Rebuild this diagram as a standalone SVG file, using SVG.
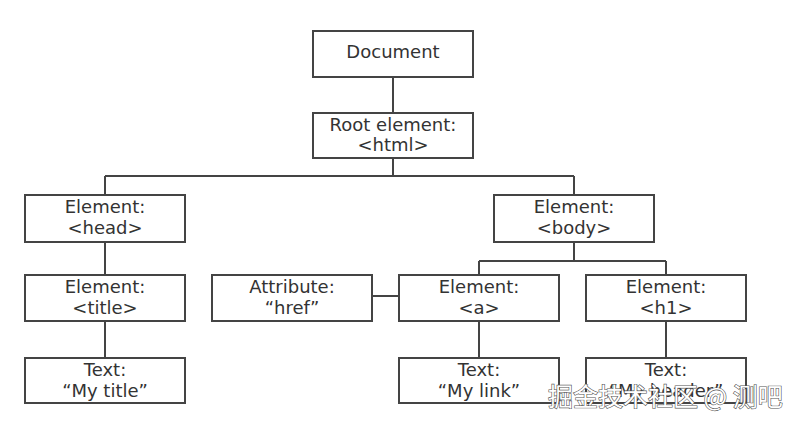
<svg xmlns="http://www.w3.org/2000/svg" width="800" height="427" viewBox="0 0 800 427">
<style>
.box{fill:#fff;stroke:#444;stroke-width:2}
.t{font-family:"DejaVu Sans",Verdana,sans-serif;font-size:18px;fill:#333;text-anchor:middle}
.c{fill:none;stroke:#444;stroke-width:2}
.wm{font-family:"Noto Sans CJK SC","DejaVu Sans",sans-serif;font-size:25px;fill:#fff;stroke:#555;stroke-width:1.2;paint-order:stroke;text-anchor:start}
</style>
<rect width="800" height="427" fill="#fff"/>
<g id="connectors">
<path class="c" d="M393 77V113M393 158V176M105 176H574M105 176V195M574 176V195M105 242V275M105 321V358M574 242V261M479 261H666M479 261V275M666 261V275M479 321V358M666 321V358M372 296H399"/>
</g>
<g id="document"><rect class="box" x="313" y="31" width="160" height="46"/><text class="t" x="393" y="58">Document</text></g>
<g id="root"><rect class="box" x="313" y="113" width="160" height="45"/><text class="t" x="393" y="131">Root element:</text><text class="t" x="393" y="151">&lt;html&gt;</text></g>
<g id="head"><rect class="box" x="25" y="195" width="160" height="47"/><text class="t" x="105" y="213">Element:</text><text class="t" x="105" y="234">&lt;head&gt;</text></g>
<g id="body"><rect class="box" x="494" y="195" width="160" height="47"/><text class="t" x="574" y="213">Element:</text><text class="t" x="574" y="234">&lt;body&gt;</text></g>
<g id="title"><rect class="box" x="25" y="275" width="160" height="46"/><text class="t" x="105" y="293">Element:</text><text class="t" x="105" y="314">&lt;title&gt;</text></g>
<g id="attribute"><rect class="box" x="212" y="275" width="160" height="46"/><text class="t" x="292" y="293">Attribute:</text><text class="t" x="292" y="314">“href”</text></g>
<g id="a"><rect class="box" x="399" y="275" width="160" height="46"/><text class="t" x="479" y="293">Element:</text><text class="t" x="479" y="314">&lt;a&gt;</text></g>
<g id="h1"><rect class="box" x="586" y="275" width="160" height="46"/><text class="t" x="666" y="293">Element:</text><text class="t" x="666" y="314">&lt;h1&gt;</text></g>
<g id="text-title"><rect class="box" x="25" y="358" width="160" height="45"/><text class="t" x="105" y="376">Text:</text><text class="t" x="105" y="397">“My title”</text></g>
<g id="text-link"><rect class="box" x="399" y="358" width="160" height="45"/><text class="t" x="479" y="376">Text:</text><text class="t" x="479" y="397">“My link”</text></g>
<g id="text-header"><rect class="box" x="586" y="358" width="160" height="45"/><text class="t" x="666" y="376">Text:</text><text class="t" x="666" y="397">“My header”</text></g>
<text class="wm" x="548" y="406">掘金技术社区 @ 测吧</text>
</svg>
